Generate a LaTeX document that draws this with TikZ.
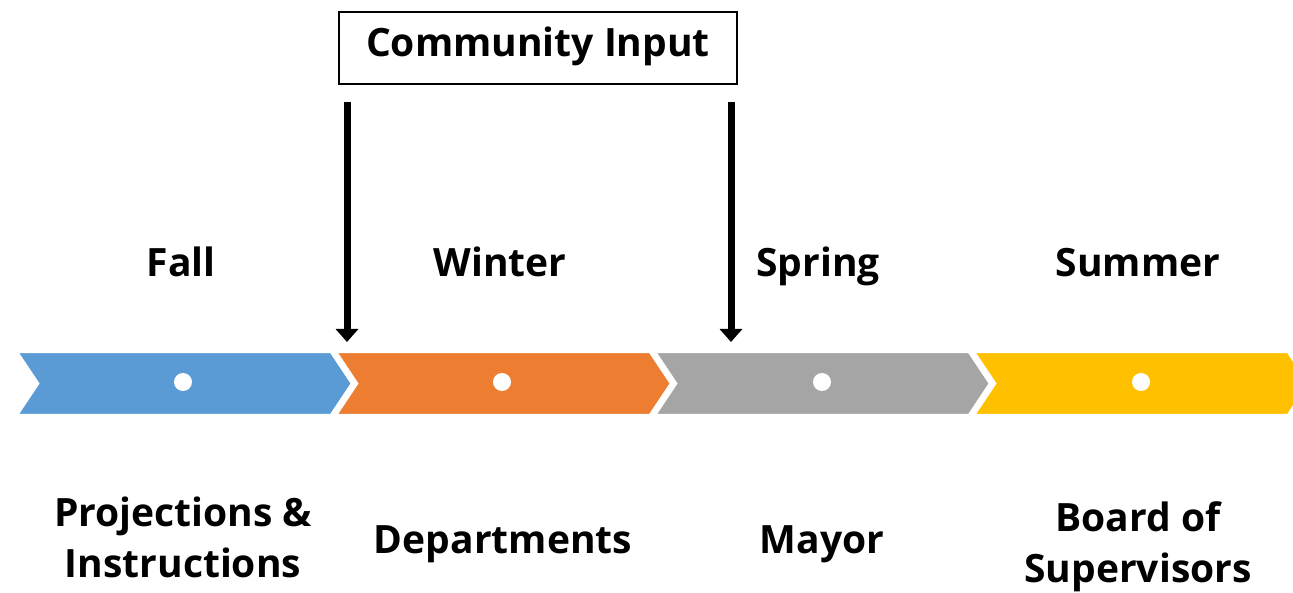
\documentclass[tikz,border=0pt]{standalone}
\usepackage{fontspec}
\setmainfont{Open Sans}
\usetikzlibrary{arrows.meta}
\definecolor{cblue}{HTML}{5B9BD5}
\definecolor{corange}{HTML}{ED7D31}
\definecolor{cgray}{HTML}{A5A5A5}
\definecolor{cyellow}{HTML}{FFC000}
\tikzset{
  lbl/.style={font=\fontsize{39}{51}\selectfont\bfseries, align=center, inner sep=0pt, anchor=base},
  chev/.style={draw=white, line width=2.5pt, line join=miter},
  dot/.style={circle, fill=white, minimum size=18pt, inner sep=0pt},
  inarrow/.style={line width=7pt, -{Triangle[width=22pt,length=13pt]}},
}
\newcommand{\chevron}[2]{%
  \fill[#2, chev] (#1,352) -- ++(314,0) -- ++(21,31.5) -- ++(-21,31.5) -- ++(-314,0) -- ++(21,-31.5) -- cycle;
}
\begin{document}
\begin{tikzpicture}[x=1pt,y=-1pt]
\useasboundingbox (0,0) rectangle (1293,593);
\begin{scope}
\clip (0,0) rectangle (1293,593);
\chevron{17}{cblue}
\chevron{336}{corange}
\chevron{655}{cgray}
\chevron{974}{cyellow}
\end{scope}
\node[dot] (d1) at (183,382) {};
\node[dot] (d2) at (502,382) {};
\node[dot] (d3) at (822,382) {};
\node[dot] (d4) at (1141,382) {};

\node[draw=black, line width=1.5pt, minimum width=398pt, minimum height=72pt, inner sep=0pt] (ci) at (538,48) {};
\node[lbl] (citext) at (538,57) {Community Input};

\coordinate (a1s) at (347,102);
\coordinate (a1e) at (347,342);
\coordinate (a2s) at (731,102);
\coordinate (a2e) at (731,342);
\draw[inarrow] (a1s) -- (a1e);
\draw[inarrow] (a2s) -- (a2e);

\node[lbl] (fall) at (181,277) {Fall};
\node[lbl] (winter) at (500,277) {Winter};
\node[lbl] (spring) at (818,277) {Spring};
\node[lbl] (summer) at (1138,277) {Summer};

\node[lbl] (p) at (183,577) {Projections \&\\Instructions};
\node[lbl] (dep) at (503,553) {Departments};
\node[lbl] (may) at (822,553) {Mayor};
\node[lbl] (bos) at (1138,582) {Board of\\Supervisors};
\end{tikzpicture}
\end{document}
